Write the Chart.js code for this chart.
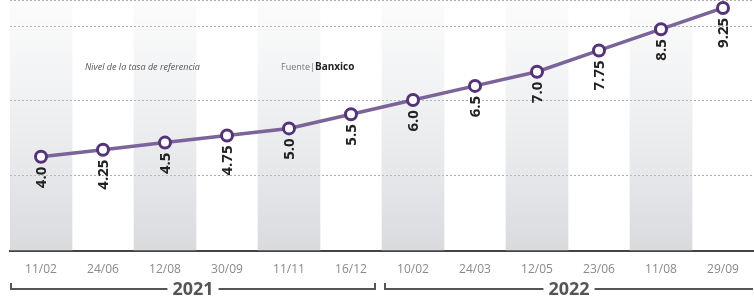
<!DOCTYPE html>
<html>
<head>
<meta charset="utf-8">
<script src="https://cdn.jsdelivr.net/npm/chart.js@4"></script>
<style>
  html, body { margin: 0; padding: 0; background: #fff; }
  #wrap { width: 754px; height: 299px; position: relative; }
</style>
</head>
<body>
<div id="wrap"><canvas id="rateChart"></canvas></div>
<script>
// Tasa de referencia de Banxico, fechas de decisión
const dates = ['11/02', '24/06', '12/08', '30/09', '11/11', '16/12', '10/02', '24/03', '12/05', '23/06', '11/08', '29/09'];
const rates = [4.0, 4.25, 4.5, 4.75, 5.0, 5.5, 6.0, 6.5, 7.0, 7.75, 8.5, 9.25];
const bands = [1, null, 1, null, 1, null, 1, null, 1, null, 1, null];
const years = ['2021', '2022'];
const yearFirst = [0, 6];
const yearLast = [5, 11];

// formats 4 -> "4.0", 4.25 -> "4.25"
const fmt = (v) => (v * 2) % 1 === 0 ? v.toFixed(1) : v.toFixed(2);

const labelsPlugin = {
    id: 'labels',
    afterDatasetsDraw(chart) {
        const ctx = chart.ctx;
        const meta = chart.getDatasetMeta(1);
        ctx.save();
        ctx.fillStyle = '#222';
        ctx.font = 'bold 15px "Open Sans"';
        ctx.textAlign = 'right';
        ctx.textBaseline = 'middle';
        meta.data.forEach((pt, i) => {
            ctx.save();
            ctx.translate(pt.x + 1, pt.y + 10);
            ctx.rotate(-Math.PI / 2);
            ctx.fillText(fmt(rates[i]), 0, 0);
            ctx.restore();
        });
        ctx.restore();
    },
    afterDraw(chart) {
        const ctx = chart.ctx;
        const x = chart.scales.x;
        const half = (x.getPixelForValue(1) - x.getPixelForValue(0)) / 2;

        // notes
        ctx.save();
        ctx.textBaseline = 'middle';
        ctx.fillStyle = '#555';
        ctx.font = 'italic 9px "Open Sans"';
        ctx.fillText('Nivel de la tasa de referencia', 85, 67);
        ctx.font = '9px "Open Sans"';
        ctx.fillStyle = '#777';
        ctx.fillText('Fuente|', 281, 67);
        const w = ctx.measureText('Fuente|').width;
        ctx.font = 'bold 10px "Open Sans"';
        ctx.fillStyle = '#222';
        ctx.fillText('Banxico', 281 + w, 67);

        // year brackets
        const y = 289;
        ctx.strokeStyle = '#555';
        ctx.lineWidth = 2;
        ctx.fillStyle = '#555';
        ctx.font = 'bold 18px "Open Sans"';
        ctx.textAlign = 'center';
        years.forEach((yr, i) => {
            const l = x.getPixelForValue(yearFirst[i]) - half + (i === 0 ? 0 : 2);
            const r = Math.min(x.getPixelForValue(yearLast[i]) + half - (i === 0 ? 6 : 0), chart.width);
            const mid = (l + r) / 2;
            const tw = ctx.measureText(yr).width / 2 + 5;
            ctx.beginPath();
            ctx.moveTo(l + 1, y - 6);
            ctx.lineTo(l + 1, y);
            ctx.lineTo(mid - tw, y);
            ctx.moveTo(mid + tw, y);
            ctx.lineTo(r - 1, y);
            if (i === 0) ctx.lineTo(r - 1, y - 6);
            ctx.stroke();
            ctx.fillText(yr, mid, y + 1);
        });
        ctx.restore();
    }
};

const ctx = document.getElementById('rateChart').getContext('2d');
new Chart(ctx, {
    type: 'bar',
    data: {
        labels: dates,
        datasets: [{
            type: 'bar',
            data: bands,
            yAxisID: 'yb',
            order: 2,
            barPercentage: 1,
            categoryPercentage: 1,
            borderWidth: 0,
            backgroundColor: (c) => {
                const area = c.chart.chartArea;
                if (!area) return 'rgba(200,203,208,0.5)';
                const g = c.chart.ctx.createLinearGradient(0, area.top, 0, area.bottom);
                g.addColorStop(0, 'rgba(215,218,222,0.1)');
                g.addColorStop(1, 'rgba(190,194,200,0.6)');
                return g;
            }
        }, {
            type: 'line',
            data: rates,
            yAxisID: 'y',
            order: 1,
            borderColor: '#7b6499',
            borderWidth: 3.5,
            pointRadius: 5.5,
            pointBorderWidth: 3,
            pointBorderColor: '#54337a',
            pointBackgroundColor: '#fff',
            tension: 0,
            clip: false
        }]
    },
    options: {
        responsive: true,
        maintainAspectRatio: false,
        animation: false,
        layout: {
            autoPadding: false,
            padding: { left: 10, right: 0, top: 0, bottom: 10 }
        },
        plugins: {
            legend: { display: false },
            tooltip: { enabled: false }
        },
        scales: {
            x: {
                grid: { display: false, drawTicks: false },
                border: { display: true, color: '#444', width: 2 },
                ticks: {
                    color: '#8a8a8a',
                    padding: 12,
                    font: { family: 'Open Sans', size: 12 },
                    maxRotation: 0,
                    autoSkip: false
                }
            },
            y: {
                display: false,
                min: 0.69,
                max: 9.53
            },
            yb: {
                display: false,
                min: 0,
                max: 1
            },
            yg: {
                position: 'left',
                min: 0,
                max: 3.35,
                ticks: { display: false, stepSize: 1 },
                border: { display: false, dash: [2, 2] },
                grid: {
                    drawTicks: false,
                    color: (c) => c.tick.value === 0 ? 'rgba(0,0,0,0)' : '#aaa',
                    lineWidth: 1
                },
                afterFit: (s) => { s.width = 0; }
            }
        }
    },
    plugins: [labelsPlugin]
});
</script>
</body>
</html>
